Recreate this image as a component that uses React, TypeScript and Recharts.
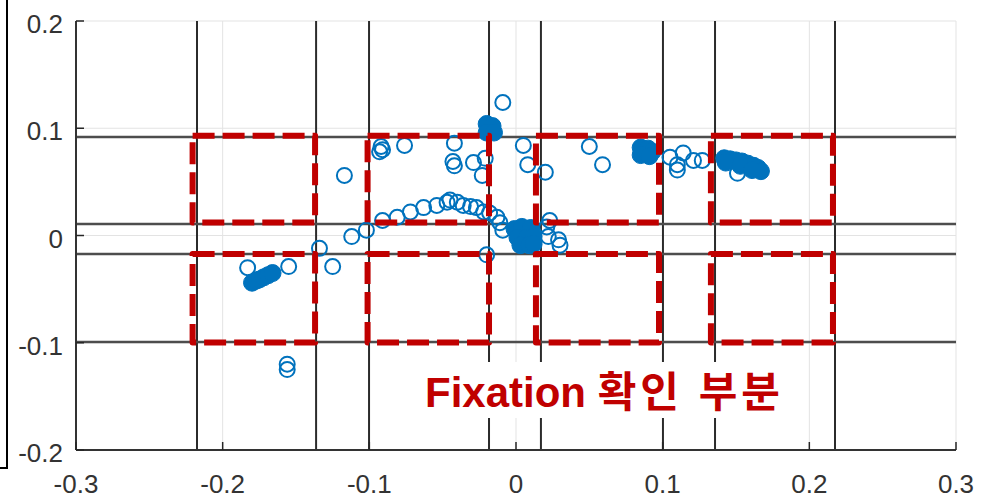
import { ScatterChart, Scatter, XAxis, YAxis, CartesianGrid, ReferenceLine, ReferenceArea } from 'recharts'

const xTicks = [-0.3, -0.2, -0.1, 0, 0.1, 0.2, 0.3]
const yTicks = [-0.2, -0.1, 0, 0.1, 0.2]

// single gaze samples, drawn as open circles
const loosePoints = [
  [-0.183, -0.030], [-0.155, -0.029], [-0.156, -0.120], [-0.156, -0.125],
  [-0.134, -0.012], [-0.125, -0.029], [-0.117, 0.056], [-0.092, 0.083],
  [-0.091, 0.080], [-0.093, 0.078], [-0.076, 0.084], [-0.042, 0.086],
  [-0.043, 0.069], [-0.042, 0.065], [-0.029, 0.068], [-0.021, 0.072],
  [-0.023, 0.056], [-0.009, 0.124], [0.005, 0.084], [0.008, 0.066],
  [0.020, 0.059], [0.050, 0.083], [0.059, 0.066], [0.105, 0.073],
  [0.110, 0.066], [0.110, 0.061], [0.114, 0.077], [0.121, 0.070],
  [0.127, 0.070], [0.151, 0.058], [-0.020, -0.018], [0.022, -0.001],
  [0.029, -0.004], [0.030, -0.009], [0.023, 0.014], [0.021, 0.008],
]

// the curved sweep across the middle
const sweepPoints = [
  [-0.112, -0.001], [-0.102, 0.005], [-0.091, 0.014], [-0.081, 0.017],
  [-0.072, 0.022], [-0.063, 0.026], [-0.054, 0.028], [-0.047, 0.031],
  [-0.045, 0.033], [-0.040, 0.031], [-0.036, 0.028], [-0.031, 0.027],
  [-0.027, 0.026], [-0.022, 0.022], [-0.018, 0.021], [-0.013, 0.017],
  [-0.011, 0.012], [-0.009, 0.005],
]

// tightly packed samples that read as solid blobs
const clusterPoints = [
  [-0.180, -0.044], [-0.177, -0.042], [-0.175, -0.041], [-0.172, -0.039], [-0.169, -0.037], [-0.166, -0.035],
  [-0.020, 0.104], [-0.016, 0.102], [-0.020, 0.096], [-0.015, 0.096],
  [-0.001, 0.006], [0.004, 0.008], [0.010, 0.007], [0.001, -0.002], [0.007, -0.002],
  [0.012, -0.001], [0.003, -0.009], [0.009, -0.009], [0.012, -0.008],
  [0.085, 0.082], [0.090, 0.081], [0.093, 0.078], [0.085, 0.075], [0.091, 0.074],
  [0.142, 0.072], [0.146, 0.071], [0.150, 0.070], [0.154, 0.069], [0.158, 0.067], [0.162, 0.065],
  [0.165, 0.063], [0.167, 0.060], [0.143, 0.068], [0.153, 0.065], [0.161, 0.061],
]

// dark partition lines
const partX = [-0.2175, -0.1363, -0.1002, -0.0184, 0.017, 0.1002, 0.1357, 0.2175]
const partY = [0.0918, 0.0107, -0.0172, -0.0993]

// red dashed fixation boxes
const boxCols = [[-0.2205, -0.137], [-0.1012, -0.0184], [0.0136, 0.0975], [0.1329, 0.2161]]
const boxRows = [[0.0121, 0.093], [-0.0998, -0.0172]]

const toXY = (pts: number[][]) => pts.map(([x, y]) => ({ x, y }))

const FONT = '"Liberation Sans", Arial, Helvetica, sans-serif'
const BLUE = '#0072BD'
const fmt = (v: number) => (v === 0 ? '0' : String(v))

const YTick = ({ x, y, payload }: any) => (
  <g>
    <line x1={x} x2={x + 8} y1={y} y2={y} stroke="#262626" strokeWidth={1.5} />
    <text x={x - 13} y={y + 12} textAnchor="end" fontSize={26} fill="#333" fontFamily={FONT}>
      {fmt(payload.value)}
    </text>
  </g>
)

const XTick = ({ x, y, payload }: any) => (
  <g>
    <line x1={x} x2={x} y1={y} y2={y - 8} stroke="#262626" strokeWidth={1.5} />
    <text x={x} y={y + 43} textAnchor="middle" fontSize={26} fill="#333" fontFamily={FONT}>
      {fmt(payload.value)}
    </text>
  </g>
)

const openDot = (p: any) => (
  <circle cx={p.cx} cy={p.cy} r={7.5} fill="none" stroke={BLUE} strokeWidth={2} />
)
const solidDot = (p: any) => (
  <circle cx={p.cx} cy={p.cy} r={8.5} fill={BLUE} stroke={BLUE} strokeWidth={1} />
)

export default function App() {
  return (
    <div style={{ position: 'absolute', left: 0, top: 0, width: 988, height: 500, background: '#fff' }}>
      <ScatterChart width={988} height={500} margin={{ top: 21, right: 32, left: 16, bottom: 0 }}>
        <CartesianGrid stroke="#e3e3e3" strokeWidth={1} />
        <XAxis
          type="number" dataKey="x" domain={[-0.3, 0.3]} ticks={xTicks}
          height={50} tickSize={0} tickMargin={0} tick={<XTick />}
          axisLine={{ stroke: '#333', strokeWidth: 2 }} allowDataOverflow
        />
        <YAxis
          type="number" dataKey="y" domain={[-0.2, 0.2]} ticks={yTicks}
          width={60} tickSize={0} tickMargin={0} tick={<YTick />}
          axisLine={{ stroke: '#333', strokeWidth: 2 }} allowDataOverflow
        />
        {partX.map(v => (
          <ReferenceLine key={'vx' + v} x={v} stroke="#2b2b2b" strokeWidth={2} />
        ))}
        {partY.map(v => (
          <ReferenceLine key={'hy' + v} y={v} stroke="#4d4d4d" strokeWidth={2.5} />
        ))}
        <Scatter data={toXY(loosePoints)} shape={openDot} isAnimationActive={false} />
        <Scatter data={toXY(sweepPoints)} shape={openDot} isAnimationActive={false} />
        <Scatter data={toXY(clusterPoints)} shape={solidDot} isAnimationActive={false} />
        {boxRows.map(([y1, y2]) =>
          boxCols.map(([x1, x2]) => (
            <ReferenceArea
              key={`${x1}-${y1}`} x1={x1} x2={x2} y1={y1} y2={y2}
              fill="none" fillOpacity={0} stroke="#c00000" strokeWidth={6}
              strokeDasharray="22 8" strokeLinejoin="round" zIndex={2000}
            />
          ))
        )}
      </ScatterChart>
      <div
        style={{
          position: 'absolute', left: 0, top: 0, width: 6, height: 467,
          borderRight: '2px solid #000', borderBottom: '2px solid #000',
        }}
      />
      <div
        style={{
          position: 'absolute', left: 419, top: 362, padding: '10px 6px 4px',
          background: '#fff', color: '#c00000', fontWeight: 'bold', fontSize: 42,
          lineHeight: '42px', whiteSpace: 'nowrap',
          fontFamily: '"Liberation Sans", Arial, "Noto Sans CJK KR", sans-serif',
        }}
      >
        Fixation <span style={{ letterSpacing: 4 }}>확인 부분</span>
      </div>
    </div>
  )
}
